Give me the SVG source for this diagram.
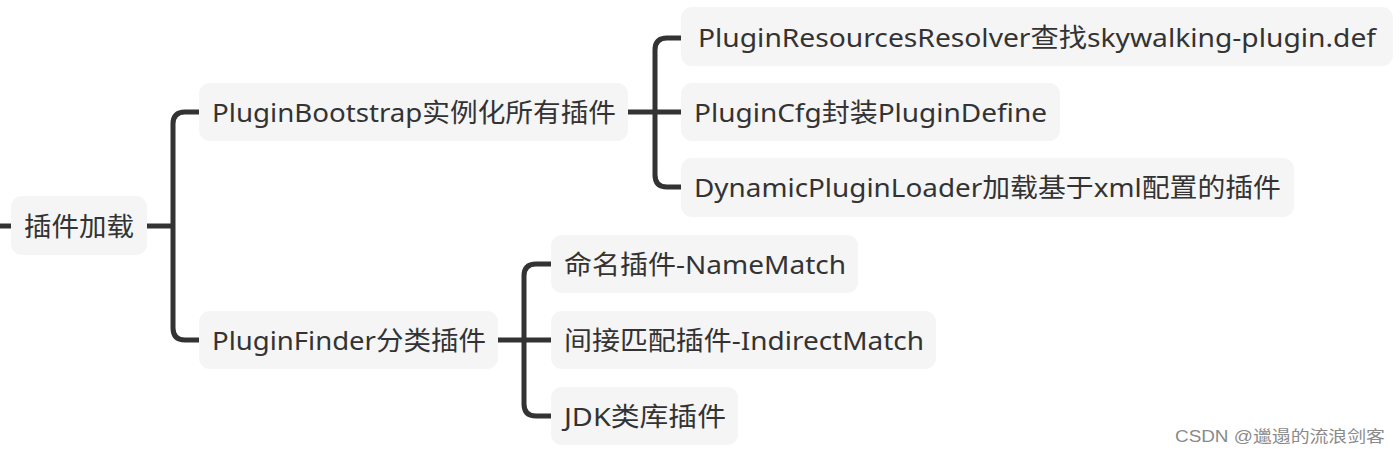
<svg xmlns="http://www.w3.org/2000/svg" width="1400" height="454" viewBox="0 0 1400 454">
<style>
.box{fill:#f5f5f5;}
.t{font-family:"Noto Sans","Noto Sans CJK SC",sans-serif;font-size:26px;fill:#333333;dominant-baseline:central;}
.c{fill:none;stroke:#333333;stroke-width:5;stroke-linecap:butt;stroke-linejoin:round;}
.wm{font-family:"Liberation Sans","Noto Sans CJK SC",sans-serif;font-size:16px;fill:#8a8a8a;}
</style>
<rect width="1400" height="454" fill="#ffffff"/>
<g id="connectors">
<path class="c" d="M0,226 H11"/>
<path class="c" d="M147,226 H173"/>
<path class="c" d="M199,112 H185 Q173,112 173,124 V328 Q173,340 185,340 H199"/>
<path class="c" d="M628,112 H681"/>
<path class="c" d="M681,38 H667 Q655,38 655,50 V175 Q655,187 667,187 H681"/>
<path class="c" d="M498,340 H551"/>
<path class="c" d="M551,264 H536 Q524,264 524,276 V404 Q524,416 536,416 H551"/>
</g>
<g id="root">
<rect class="box" x="11" y="196" width="136" height="59" rx="11"/>
<text class="t" x="24" y="226" textLength="110" lengthAdjust="spacingAndGlyphs">插件加载</text>
</g>
<g id="nodeA">
<rect class="box" x="199" y="83" width="429" height="58" rx="11"/>
<text class="t" x="212" y="112" textLength="404" lengthAdjust="spacingAndGlyphs">PluginBootstrap实例化所有插件</text>
</g>
<g id="nodeA1">
<rect class="box" x="681" y="7" width="712" height="59" rx="11"/>
<text class="t" x="698" y="37" textLength="678" lengthAdjust="spacingAndGlyphs">PluginResourcesResolver查找skywalking-plugin.def</text>
</g>
<g id="nodeA2">
<rect class="box" x="681" y="83" width="379" height="58" rx="11"/>
<text class="t" x="694" y="112" textLength="353" lengthAdjust="spacingAndGlyphs">PluginCfg封装PluginDefine</text>
</g>
<g id="nodeA3">
<rect class="box" x="681" y="158" width="613" height="59" rx="11"/>
<text class="t" x="694" y="187" textLength="587" lengthAdjust="spacingAndGlyphs">DynamicPluginLoader加载基于xml配置的插件</text>
</g>
<g id="nodeB">
<rect class="box" x="199" y="311" width="299" height="58" rx="11"/>
<text class="t" x="212" y="340" textLength="274" lengthAdjust="spacingAndGlyphs">PluginFinder分类插件</text>
</g>
<g id="nodeB1">
<rect class="box" x="551" y="235" width="307" height="58" rx="11"/>
<text class="t" x="564" y="264" textLength="282" lengthAdjust="spacingAndGlyphs">命名插件-NameMatch</text>
</g>
<g id="nodeB2">
<rect class="box" x="551" y="311" width="385" height="58" rx="11"/>
<text class="t" x="564" y="340" textLength="360" lengthAdjust="spacingAndGlyphs">间接匹配插件-IndirectMatch</text>
</g>
<g id="nodeB3">
<rect class="box" x="551" y="387" width="187" height="58" rx="11"/>
<text class="t" x="564" y="416" textLength="162" lengthAdjust="spacingAndGlyphs">JDK类库插件</text>
</g>
<text class="wm" x="1175" y="442" textLength="210" lengthAdjust="spacingAndGlyphs">CSDN @邋遢的流浪剑客</text>
</svg>
